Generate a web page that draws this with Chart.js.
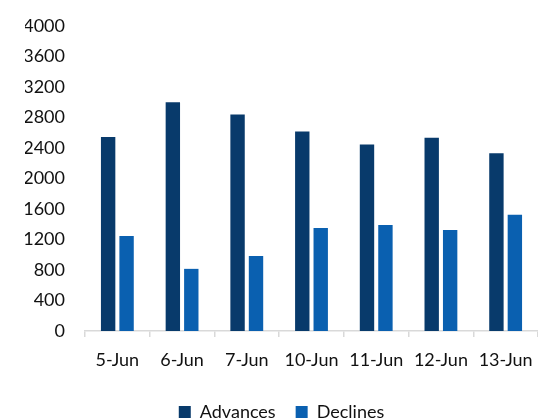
<!DOCTYPE html>
<html>
<head>
<meta charset="utf-8">
<script src="https://cdn.jsdelivr.net/npm/chart.js@4"></script>
<style>
  html,body{margin:0;padding:0;background:#fff;}
  #wrap{width:538px;height:418px;}
</style>
</head>
<body>
<div id="wrap"><canvas id="chart"></canvas></div>
<script>
// DATA
const categories = ['5-Jun','6-Jun','7-Jun','10-Jun','11-Jun','12-Jun','13-Jun'];
const advances = [2545, 3000, 2840, 2615, 2445, 2535, 2330];
const declines = [1245, 815, 985, 1350, 1390, 1325, 1525];
const yTicks = [0,400,800,1200,1600,2000,2400,2800,3200,3600,4000];

const font = {family:'Lato, "Open Sans", sans-serif', size:18};

new Chart(document.getElementById('chart'),{
  type:'bar',
  data:{
    labels:categories,
    datasets:[
      {label:'Advances', data:advances, backgroundColor:'#083a6b',
       categoryPercentage:0.57, barPercentage:0.78},
      {label:'Declines', data:declines, backgroundColor:'#0a60b0',
       categoryPercentage:0.57, barPercentage:0.78}
    ]
  },
  options:{
    responsive:true,
    maintainAspectRatio:false,
    animation:false,
    layout:{padding:{left:25, right:0, top:26, bottom:-13}},
    plugins:{
      tooltip:{enabled:false},
      legend:{
        position:'bottom',
        labels:{boxWidth:12, boxHeight:12, padding:20, color:'#111', font:font}
      }
    },
    scales:{
      x:{
        grid:{offset:true, drawOnChartArea:false, color:'#d9d9d9', tickLength:6, lineWidth:1.5},
        border:{color:'#d9d9d9', width:1.5},
        ticks:{color:'#111', font:font, padding:12, maxRotation:0},
        afterFit:s=>{ s.height = 52; s.paddingRight = 0; }
      },
      y:{
        min:0, max:4000,
        afterBuildTicks:s=>{ s.ticks = yTicks.map(v=>({value:v})); },
        afterFit:s=>{ s.width = 60; s.paddingTop = 0; },
        grid:{display:false, drawTicks:false},
        border:{display:false},
        ticks:{color:'#111', font:font, padding:20, callback:v=>String(v)}
      }
    }
  }
});
</script>
</body>
</html>
